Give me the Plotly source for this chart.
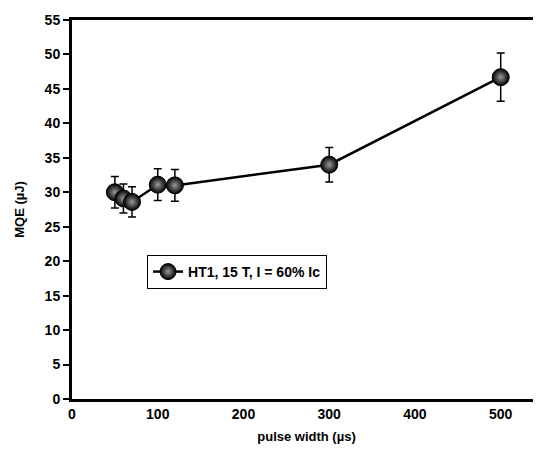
"""MQE vs pulse width, HT1 at 15 T."""

import plotly.graph_objects as go

# datos
pulse_width = [50, 60, 70, 100, 120, 300, 500]
mqe = [30.0, 29.1, 28.6, 31.1, 31.0, 34.0, 46.7]
mqe_err = [2.3, 2.1, 2.2, 2.3, 2.3, 2.5, 3.5]

FONT = "Liberation Sans, Arial, sans-serif"

fig = go.Figure()
fig.add_trace(
    go.Scatter(
        x=pulse_width,
        y=mqe,
        mode="lines+markers",
        name="HT1, 15 T, I = 60% Ic",
        line=dict(color="black", width=2.5),
        marker=dict(
            size=17,
            color="black",
            gradient=dict(type="radial", color="#9a9a9a"),
            line=dict(color="black", width=1),
        ),
        error_y=dict(type="data", array=mqe_err, color="black",
                     thickness=1.5, width=4),
    )
)

# la pagina deja 8 px de margen en el body: se compensa aqui
fig.update_layout(
    width=541,
    height=454,
    margin=dict(l=64, r=8, t=12, b=63),
    paper_bgcolor="white",
    plot_bgcolor="white",
    font=dict(family=FONT, size=14, color="black", weight="bold"),
    showlegend=True,
    legend=dict(
        x=0.16, y=0.38, xanchor="left", yanchor="top",
        bgcolor="white", bordercolor="black", borderwidth=1,
        font=dict(size=14, weight="bold"),
        tracegroupgap=0,
    ),
    xaxis=dict(
        range=[0, 547],
        tickvals=[0, 100, 200, 300, 400, 500],
        ticks="",
        automargin=False,
        showgrid=False,
        zeroline=False,
        showline=True,
        linecolor="black",
        linewidth=3,
        mirror=True,
        title=dict(text="pulse width (µs)", font=dict(size=13, weight="bold"),
                   standoff=12),
    ),
    yaxis=dict(
        range=[0, 55],
        dtick=5,
        ticks="outside",
        ticklen=6,
        tickwidth=2,
        tickcolor="black",
        automargin=False,
        showgrid=False,
        zeroline=False,
        showline=True,
        linecolor="black",
        linewidth=3,
        title=dict(text="MQE (µJ)", font=dict(size=13, weight="bold"),
                   standoff=18),
    ),
)

fig.write_html("out.html")
